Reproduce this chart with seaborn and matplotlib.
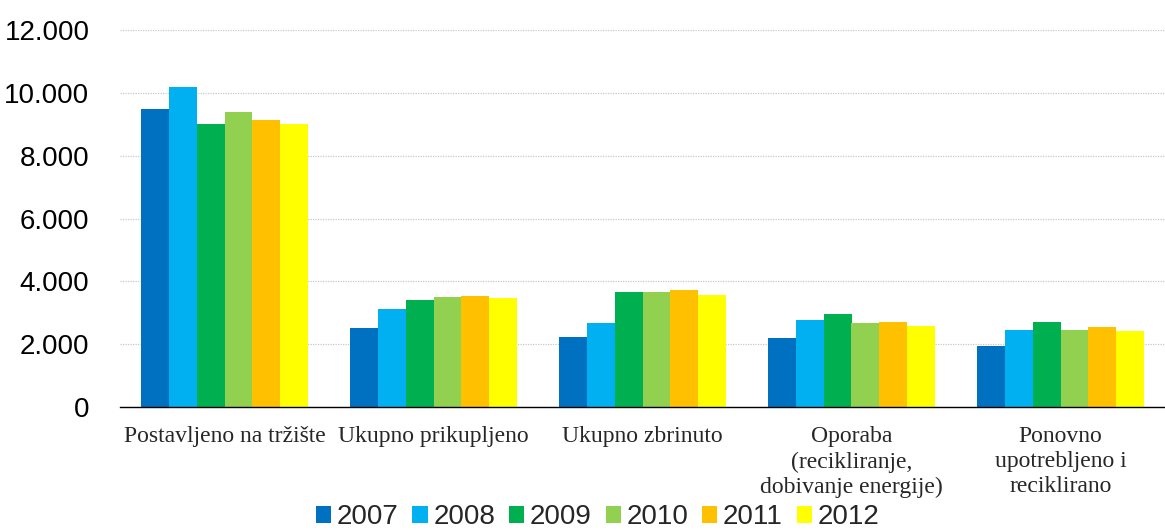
import matplotlib
matplotlib.use("Agg")
import matplotlib.pyplot as plt
import seaborn as sns
import pandas as pd
from matplotlib.ticker import FuncFormatter, FixedLocator
from matplotlib.patches import Patch

categories = ["Postavljeno na tržište", "Ukupno prikupljeno", "Ukupno zbrinuto",
              "Oporaba\n(recikliranje,\ndobivanje energije)",
              "Ponovno\nupotrebljeno i\nreciklirano"]
years = ["2007", "2008", "2009", "2010", "2011", "2012"]
v2007 = [9500, 2510, 2220, 2190, 1930]
v2008 = [10190, 3130, 2670, 2760, 2450]
v2009 = [9020, 3410, 3660, 2960, 2720]
v2010 = [9390, 3500, 3650, 2670, 2450]
v2011 = [9120, 3540, 3720, 2720, 2540]
v2012 = [9020, 3460, 3560, 2590, 2410]
colors = ["#0070C0", "#00B0F0", "#00B050", "#92D050", "#FFC000", "#FFFF00"]

series = [v2007, v2008, v2009, v2010, v2011, v2012]
rows = []
for y, vals in zip(years, series):
    for c, v in zip(categories, vals):
        rows.append({"cat": c, "year": y, "val": v})
df = pd.DataFrame(rows)

sns.set_theme(style="white")
plt.rcParams['font.family'] = ['Liberation Sans', 'DejaVu Sans']

fig = plt.figure(figsize=(11.65, 5.3), dpi=100)
ax = fig.add_axes([120/1165, 1-407/530, 1-120/1165, (407-30)/530])

sns.barplot(data=df, x="cat", y="val", hue="year", palette=colors,
            order=categories, hue_order=years, width=0.8, ax=ax,
            saturation=1, legend=False, edgecolor="none")

ax.set_ylim(0, 12000)
ax.set_xlim(-0.5, 4.5)
ax.set_yticks(range(0, 12001, 2000))
ax.yaxis.set_major_formatter(FuncFormatter(lambda v, p: f"{int(v):,}".replace(",", ".")))
ax.tick_params(axis="y", length=0, pad=22, labelsize=20, labelcolor="#000000")
ax.grid(axis="y", color="#C8C8C8", linestyle=(0, (1, 1)), linewidth=0.9)
ax.set_axisbelow(True)

for s in ["left", "right", "top"]:
    ax.spines[s].set_visible(False)
ax.spines["bottom"].set_color("#000000")
ax.spines["bottom"].set_linewidth(1.0)

ax.set_xticks([0, 1, 2, 3, 4])
ax.set_xticklabels(categories, fontfamily="Liberation Serif", fontsize=17,
                   linespacing=1.24, va="top")
ax.tick_params(axis="x", length=0, pad=14)
ax.xaxis.set_minor_locator(FixedLocator([-0.5, 0.5, 1.5, 2.5, 3.5, 4.5]))
ax.tick_params(axis="x", which="minor", length=6, width=1, color="#000000", direction="out")
ax.set_xlabel("")
ax.set_ylabel("")

handles = [Patch(facecolor=c, edgecolor="none") for c in colors]
fig.legend(handles, years, loc="lower center", bbox_to_anchor=(0.513, -0.021),
           ncol=6, frameon=False, fontsize=20, handlelength=0.55, handleheight=0.55,
           handletextpad=0.2, columnspacing=0.5, borderaxespad=0)

fig.savefig("out.png", dpi=100)
